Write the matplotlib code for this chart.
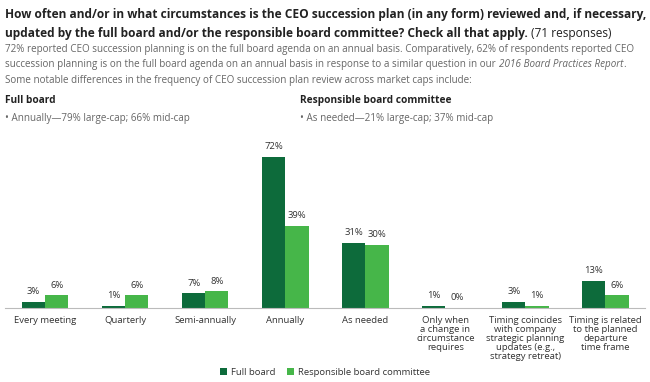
import numpy as np
import matplotlib.pyplot as plt

plt.rcParams['font.family'] = ['Open Sans', 'DejaVu Sans']

categories = ['Every meeting', 'Quarterly', 'Semi-annually', 'Annually', 'As needed',
              'Only when\na change in\ncircumstance\nrequires',
              'Timing coincides\nwith company\nstrategic planning\nupdates (e.g.,\nstrategy retreat)',
              'Timing is related\nto the planned\ndeparture\ntime frame']
full_board = [3, 1, 7, 72, 31, 1, 3, 13]
committee = [6, 6, 8, 39, 30, 0, 1, 6]

dark = '#0d6b3b'
light = '#46b649'
txt = '#333333'
grey = '#666666'

fig = plt.figure(figsize=(6.5, 3.82), dpi=100)
renderer = fig.canvas.get_renderer()


def text_run(x, y, pieces):
    # draw several text pieces one after another on the same line
    for s, kw in pieces:
        t = fig.text(x, y, s, va='center', **kw)
        bb = t.get_window_extent(renderer)
        x += bb.width / fig.bbox.width


fig.text(0.008, 0.963, 'How often and/or in what circumstances is the CEO succession plan (in any form) reviewed and, if necessary,',
         fontsize=8.6, fontweight='bold', color='#222222', va='center')
text_run(0.008, 0.913, [
    ('updated by the full board and/or the responsible board committee? Check all that apply. ',
     dict(fontsize=8.6, fontweight='bold', color='#222222')),
    ('(71 responses)', dict(fontsize=8.6, color='#222222'))])
fig.text(0.008, 0.871, '72% reported CEO succession planning is on the full board agenda on an annual basis. Comparatively, 62% of respondents reported CEO',
         fontsize=7.1, color=grey, va='center')
text_run(0.008, 0.832, [
    ('succession planning is on the full board agenda on an annual basis in response to a similar question in our ',
     dict(fontsize=7.1, color=grey)),
    ('2016 Board Practices Report', dict(fontsize=7.1, color=grey, style='italic')),
    ('.', dict(fontsize=7.1, color=grey))])
fig.text(0.008, 0.790, 'Some notable differences in the frequency of CEO succession plan review across market caps include:',
         fontsize=7.1, color=grey, va='center')
fig.text(0.008, 0.738, 'Full board', fontsize=7.3, fontweight='bold', color='#222222', va='center')
fig.text(0.462, 0.738, 'Responsible board committee', fontsize=7.3, fontweight='bold', color='#222222', va='center')
fig.text(0.008, 0.690, '\u2022 Annually\u201479% large-cap; 66% mid-cap', fontsize=7.1, color=grey, va='center')
fig.text(0.462, 0.690, '\u2022 As needed\u201421% large-cap; 37% mid-cap', fontsize=7.1, color=grey, va='center')

ax = fig.add_axes([0.008, 0.194, 0.985, 0.44])
x = np.arange(len(categories))
w = 0.29
b1 = ax.bar(x - w / 2, full_board, w, color=dark, label='Full board')
b2 = ax.bar(x + w / 2, committee, w, color=light, label='Responsible board committee')

for bars, vals in [(b1, full_board), (b2, committee)]:
    for r, v in zip(bars, vals):
        ax.annotate(f'{v}%', (r.get_x() + r.get_width() / 2, r.get_height()),
                    xytext=(0, 4), textcoords='offset points', ha='center', va='bottom',
                    fontsize=6.8, color=txt)

ax.set_xlim(-0.5, len(categories) - 0.5)
ax.set_ylim(0, 80)
ax.set_xticks(x)
ax.set_xticklabels(categories, fontsize=6.8, color=txt, linespacing=1.0, va='top')
ax.tick_params(axis='x', length=0, pad=6)
ax.set_yticks([])
for s in ['top', 'right', 'left']:
    ax.spines[s].set_visible(False)
ax.spines['bottom'].set_color('#bbbbbb')
ax.spines['bottom'].set_linewidth(0.8)

fig.legend(handles=[b1, b2], loc='center', bbox_to_anchor=(0.5, 0.025), ncol=2, frameon=False,
           fontsize=6.8, handlelength=0.8, handleheight=0.8, handletextpad=0.4, columnspacing=1.2,
           labelcolor=txt)

fig.savefig('out.png', dpi=100)
